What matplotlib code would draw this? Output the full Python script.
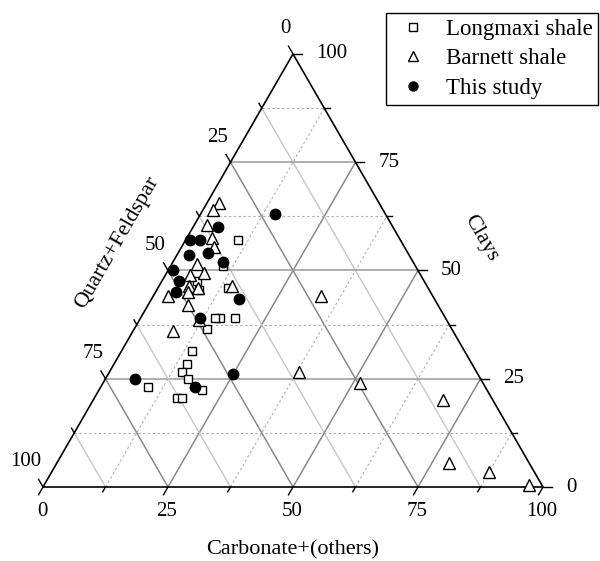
import numpy as np
import matplotlib
matplotlib.use("Agg")
import matplotlib.pyplot as plt
from matplotlib.lines import Line2D

plt.rcParams["font.family"] = ["Liberation Serif", "DejaVu Serif"]

# Mineral composition (wt%): quartz+feldspar, carbonate(+others), clays
longmaxi_qf = [32.5, 38.5, 45.5, 46, 40, 45, 46, 42, 49, 54.5, 57, 59, 58.5, 57, 63, 62, 67.5]
longmaxi_carb = [10.5, 10.5, 7, 8.5, 14, 16, 15, 19, 14.5, 14, 14.5, 14.5, 16.5, 20.5, 16.5, 17.5, 9.5]
longmaxi_clay = [57, 51, 47.5, 45.5, 46, 39, 39, 39, 36.5, 31.5, 28.5, 26.5, 25, 22.5, 20.5, 20.5, 23]

barnett_qf = [32, 34, 37, 37.5, 38, 43.5, 43, 46, 47.5, 46, 48.5, 53, 50, 39, 49.5, 56,
              35.5, 22.5, 24.5, 10, 16, 9, 2.5]
barnett_carb = [2.5, 2, 2.5, 5, 6.5, 5, 7.5, 5, 6, 8, 6.5, 3, 8, 14.5, 12, 8,
                38, 33.5, 51.5, 70, 78.5, 87.5, 97]
barnett_clay = [65.5, 64, 60.5, 57.5, 55.5, 51.5, 49.5, 49, 46.5, 46, 45, 44, 42, 46.5, 38.5, 36,
                26.5, 44, 24, 20, 5.5, 3.5, 0.5]

study_qf = [22, 35, 40, 42, 40, 38, 44, 49, 49, 51, 39, 49, 49, 58, 69]
study_carb = [15, 5, 3, 1, 6, 10, 2.5, 1, 3.5, 4, 17.5, 12, 25, 19, 6]
study_clay = [63, 60, 57, 57, 54, 52, 53.5, 50, 47.5, 45, 43.5, 39, 26, 23, 25]

ticks = [0, 25, 50, 75, 100]

H = np.sqrt(3) / 2


def tern(carb, clay):
    """Carbonate / clay percentages -> cartesian position in the unit triangle."""
    carb = np.asarray(carb, dtype=float) / 100
    clay = np.asarray(clay, dtype=float) / 100
    return carb + clay / 2, clay * H


def normalise(qf, carb, clay):
    qf, carb, clay = (np.asarray(a, dtype=float) for a in (qf, carb, clay))
    tot = qf + carb + clay
    return carb / tot * 100, clay / tot * 100


fig = plt.figure(figsize=(6, 5.61), dpi=100)
ax = fig.add_axes([0, 0, 1, 1])
ax.set_xlim(-0.086, 1.114)
ax.set_ylim(-0.148, 0.974)
ax.axis("off")

# grid: solid at the quarters, lighter / dotted at the eighths
dot = (0, (2.2, 2.2))
for v in np.arange(12.5, 100, 12.5):
    major = v % 25 == 0
    # constant clays (horizontal)
    x0, y0 = tern(0, v)
    x1, y1 = tern(100 - v, v)
    if major:
        ax.plot([x0, x1], [y0, y1], color="#9a9a9a", lw=1.1, zorder=1)
    else:
        ax.plot([x0, x1], [y0, y1], color="#b0b0b0", lw=0.8, ls=dot, zorder=1)
    # constant carbonate (parallel to left side)
    x0, y0 = tern(v, 0)
    x1, y1 = tern(v, 100 - v)
    if major:
        ax.plot([x0, x1], [y0, y1], color="#8a8a8a", lw=1.1, zorder=1)
    else:
        ax.plot([x0, x1], [y0, y1], color="#b0b0b0", lw=0.8, ls=dot, zorder=1)
    # constant quartz+feldspar (parallel to right side)
    x0, y0 = tern(100 - v, 0)
    x1, y1 = tern(0, 100 - v)
    if major:
        ax.plot([x0, x1], [y0, y1], color="#8a8a8a", lw=1.1, zorder=1)
    else:
        ax.plot([x0, x1], [y0, y1], color="#c6c6c6", lw=1.0, zorder=1)

# outline
ax.plot([0, 1, 0.5, 0], [0, 0, H, 0], color="black", lw=1.2, zorder=2, solid_joinstyle="miter")

# ticks and tick labels
for v in np.arange(0, 100.1, 12.5):
    L = 0.018 if v % 25 == 0 else 0.011
    # left: quartz+feldspar
    x, y = tern(0, 100 - v)
    ax.plot([x, x - 0.5 * L], [y, y + H * L], color="black", lw=1.0, zorder=2)
    # right: clays
    x, y = tern(100 - v, v)
    ax.plot([x, x + L], [y, y], color="black", lw=1.0, zorder=2)
    # bottom: carbonate
    x, y = tern(v, 0)
    ax.plot([x, x - 0.5 * L], [y, y - H * L], color="black", lw=1.0, zorder=2)

for t in ticks:
    x, y = tern(0, 100 - t)
    ax.text(x - 0.004, y + 0.05, str(t), ha="right", va="center", fontsize=15)
    x, y = tern(100 - t, t)
    ax.text(x + 0.046, y, str(t), ha="left", va="center", fontsize=15)
    x, y = tern(t, 0)
    ax.text(x - 0.002, y - 0.05, str(t), ha="center", va="center", fontsize=15)

ax.text(0.5, -0.126, "Carbonate+(others)", ha="center", va="center", fontsize=16)
ax.text(0.148, 0.488, "Quartz+Feldspar", ha="center", va="center", fontsize=16, rotation=60)
ax.text(0.876, 0.498, "Clays", ha="center", va="center", fontsize=16, rotation=-60)

# samples
x, y = tern(*normalise(longmaxi_qf, longmaxi_carb, longmaxi_clay))
ax.plot(x, y, ls="none", marker="s", ms=6, mfc="white", mec="black", mew=1.0, zorder=3)
x, y = tern(*normalise(barnett_qf, barnett_carb, barnett_clay))
ax.plot(x, y, ls="none", marker="^", ms=8, mfc="white", mec="black", mew=1.0, zorder=4)
x, y = tern(*normalise(study_qf, study_carb, study_clay))
ax.plot(x, y, ls="none", marker="o", ms=7.5, mfc="black", mec="black", zorder=5)

handles = [
    Line2D([], [], ls="none", marker="s", ms=5.5, mfc="white", mec="black", mew=1.0),
    Line2D([], [], ls="none", marker="^", ms=6.5, mfc="white", mec="black", mew=1.0),
    Line2D([], [], ls="none", marker="o", ms=6.5, mfc="black", mec="black"),
]
leg = ax.legend(handles, ["Longmaxi shale", "Barnett shale", "This study"],
                loc="upper right", bbox_to_anchor=(598 / 600, 1 - 13 / 561),
                bbox_transform=fig.transFigure, borderaxespad=0, fontsize=16.5,
                frameon=True, fancybox=False, edgecolor="black", framealpha=1,
                borderpad=0.25, labelspacing=0.37, handlelength=1.9, handletextpad=0.45)
leg.get_frame().set_linewidth(1.0)

fig.savefig("out.png", dpi=100)
